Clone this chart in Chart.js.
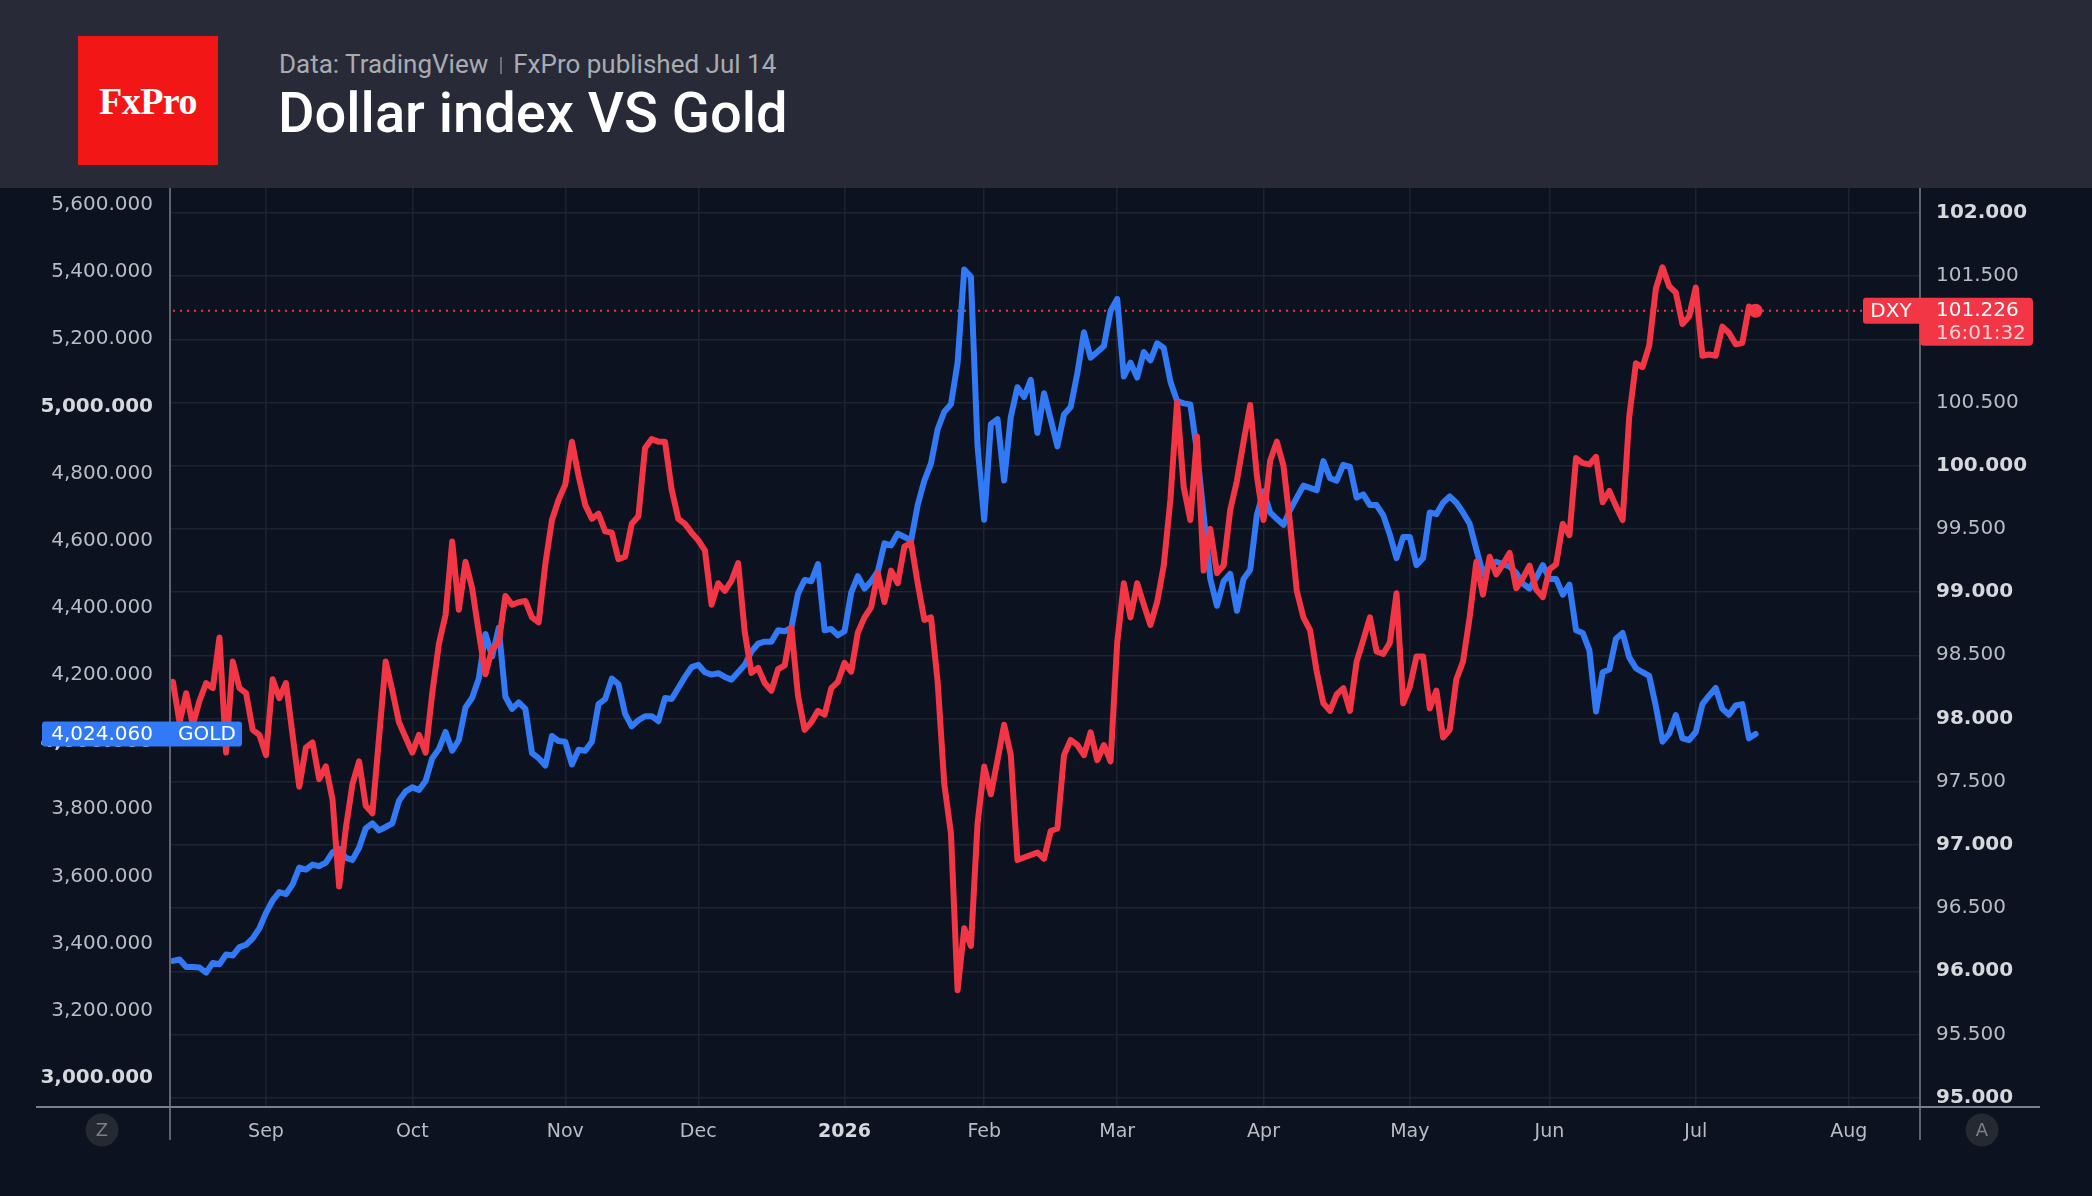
<!DOCTYPE html>
<html>
<head>
<meta charset="utf-8">
<script src="https://cdn.jsdelivr.net/npm/chart.js@4.4.1/dist/chart.umd.min.js"></script>
<style>
html, body { margin: 0; padding: 0; background: #0c121f; width: 2092px; height: 1196px; overflow: hidden; }
#head { position: absolute; left: 0; top: 0; width: 2092px; height: 188px; background: #282b37; }
#logo { position: absolute; left: 78px; top: 36px; width: 140px; height: 129px; background: #f21616; color: #fff;
  font: bold 38px "Liberation Serif", serif; display: flex; align-items: center; justify-content: center; letter-spacing: -0.5px; }
#sub { position: absolute; left: 279px; top: 51px; font: 26px Roboto; line-height: 26px; color: #a9abb2; white-space: nowrap; }
#sub .sep { display: inline-block; width: 2px; height: 17px; background: #6c6f78; margin: 0 11px 0 12px; vertical-align: -1px; }
#title { position: absolute; left: 278px; top: 85px; font: 500 56px Roboto; line-height: 56px; color: #fff; white-space: nowrap; }
#chart { position: absolute; left: 0; top: 188px; }
</style>
</head>
<body>
<div id="head">
  <div id="logo">FxPro</div>
  <div id="sub">Data: TradingView<span class="sep"></span>FxPro published Jul 14</div>
  <div id="title">Dollar index VS Gold</div>
</div>
<canvas id="chart" width="2092" height="1008"></canvas>
<script>
// trading days: weekdays from 12 Aug 2025, without these closed days
const firstDay = '2025-08-12'
const lastAxisDay = '2026-08-31'
const holidays = ['2025-12-25', '2026-01-01']
const monthNames = ['2026', 'Feb', 'Mar', 'Apr', 'May', 'Jun', 'Jul', 'Aug', 'Sep', 'Oct', 'Nov', 'Dec']

// US Dollar index, daily close (right scale)
const dxy = [
  98.29, 97.97, 98.20, 97.95, 98.14, 98.28, 98.24, 98.64, 97.73, 98.45,
  98.24, 98.20, 97.91, 97.87, 97.71, 98.31, 98.16, 98.28, 97.87, 97.46,
  97.77, 97.81, 97.52, 97.62, 97.36, 96.67, 97.13, 97.48, 97.66, 97.31,
  97.25, 97.85, 98.45, 98.22, 97.97, 97.85, 97.73, 97.87, 97.73, 98.20,
  98.59, 98.82, 99.40, 98.86, 99.24, 99.03, 98.68, 98.35, 98.55, 98.60,
  98.97, 98.90, 98.92, 98.93, 98.80, 98.76, 99.22, 99.57, 99.73, 99.85,
  100.19, 99.92, 99.69, 99.58, 99.62, 99.48, 99.47, 99.26, 99.28, 99.54,
  99.60, 100.14, 100.21, 100.19, 100.19, 99.81, 99.58, 99.54, 99.47, 99.41,
  99.33, 98.90, 99.07, 99.01, 99.09, 99.23, 98.68, 98.36, 98.40, 98.28,
  98.22, 98.39, 98.42, 98.72, 98.18, 97.91, 97.97, 98.06, 98.03, 98.24,
  98.29, 98.44, 98.37, 98.68, 98.80, 98.88, 99.15, 98.92, 99.17, 99.07,
  99.36, 99.39, 99.07, 98.78, 98.80, 98.29, 97.48, 97.09, 95.85, 96.34,
  96.20, 97.17, 97.62, 97.40, 97.67, 97.95, 97.71, 96.88, 96.90, 96.92,
  96.94, 96.89, 97.11, 97.13, 97.71, 97.83, 97.79, 97.71, 97.89, 97.67,
  97.79, 97.66, 98.60, 99.07, 98.80, 99.07, 98.90, 98.74, 98.92, 99.21,
  99.73, 100.50, 99.83, 99.57, 100.23, 99.17, 99.50, 99.15, 99.21, 99.65,
  99.88, 100.19, 100.48, 99.92, 99.57, 100.04, 100.19, 100.00, 99.54, 99.01,
  98.80, 98.70, 98.37, 98.12, 98.06, 98.19, 98.24, 98.06, 98.45, 98.62,
  98.80, 98.53, 98.51, 98.60, 98.99, 98.12, 98.25, 98.49, 98.49, 98.08,
  98.22, 97.85, 97.91, 98.31, 98.45, 98.80, 99.24, 98.98, 99.28, 99.14,
  99.22, 99.31, 99.03, 99.11, 99.21, 99.02, 98.96, 99.18, 99.22, 99.54,
  99.45, 100.06, 100.02, 100.01, 100.07, 99.71, 99.80, 99.68, 99.57, 100.39,
  100.81, 100.78, 100.95, 101.40, 101.57, 101.42, 101.37, 101.12, 101.18, 101.41,
  100.87, 100.88, 100.87, 101.10, 101.05, 100.96, 100.97, 101.26, 101.226
]

// Gold spot, daily close (left scale)
const gold = [
  3348, 3352, 3330, 3330, 3328, 3313, 3342, 3338, 3367, 3364,
  3389, 3396, 3415, 3445, 3491, 3528, 3553, 3547, 3576, 3626,
  3620, 3635, 3630, 3641, 3671, 3682, 3655, 3649, 3685, 3743,
  3758, 3737, 3747, 3758, 3825, 3853, 3865, 3857, 3884, 3952,
  3979, 4030, 3974, 4006, 4103, 4132, 4189, 4322, 4255, 4340,
  4135, 4099, 4118, 4099, 3967, 3952, 3930, 4018, 4003, 4001,
  3933, 3977, 3974, 4001, 4113, 4128, 4189, 4172, 4084, 4047,
  4065, 4077, 4077, 4062, 4131, 4128, 4161, 4194, 4223, 4230,
  4208, 4201, 4205, 4194, 4186, 4208, 4230, 4270, 4293, 4299,
  4299, 4333, 4330, 4340, 4442, 4483, 4479, 4530, 4333, 4337,
  4318, 4330, 4445, 4494, 4457, 4479, 4508, 4592, 4586, 4621,
  4611, 4600, 4706, 4779, 4830, 4932, 4984, 5006, 5130, 5408,
  5386, 4881, 4662, 4947, 4962, 4779, 4969, 5057, 5028, 5079,
  4921, 5039, 4962, 4881, 4976, 4998, 5098, 5221, 5145, 5162,
  5180, 5284, 5320, 5089, 5130, 5086, 5162, 5137, 5188, 5174,
  5074, 5016, 5009, 5006, 4867, 4676, 4486, 4406, 4479, 4501,
  4391, 4486, 4513, 4676, 4747, 4684, 4665, 4647, 4691, 4728,
  4764, 4757, 4750, 4837, 4786, 4779, 4826, 4820, 4728, 4738,
  4706, 4706, 4676, 4618, 4548, 4611, 4611, 4527, 4548, 4684,
  4679, 4713, 4732, 4713, 4684, 4650, 4574, 4501, 4530, 4537,
  4530, 4523, 4504, 4472, 4457, 4489, 4527, 4486, 4486, 4439,
  4469, 4333, 4325, 4274, 4091, 4208, 4216, 4308, 4325, 4252,
  4220, 4208, 4197, 4106, 4001, 4025, 4080, 4011, 4006, 4030,
  4113, 4138, 4161, 4099, 4081, 4109, 4113, 4011, 4024.06
]

const goldTicks = [3000, 3200, 3400, 3600, 3800, 4000, 4200, 4400, 4600, 4800, 5000, 5200, 5400, 5600]
const dxyTicks = [95, 95.5, 96, 96.5, 97, 97.5, 98, 98.5, 99, 99.5, 100, 100.5, 101, 101.5, 102]
const lastTime = '16:01:32'

// build the calendar of bars
const days = []
for (let d = new Date(firstDay + 'T00:00:00Z'); d <= new Date(lastAxisDay + 'T00:00:00Z'); d.setUTCDate(d.getUTCDate() + 1)) {
  const iso = d.toISOString().slice(0, 10)
  const wd = d.getUTCDay()
  if (wd === 0 || wd === 6 || holidays.includes(iso)) continue
  days.push(iso)
}
const monthTicks = []
days.forEach((iso, i) => {
  if (i > 0 && iso.slice(5, 7) !== days[i - 1].slice(5, 7)) {
    monthTicks.push({ value: i, label: monthNames[(+iso.slice(5, 7) - 1)] })
  }
})

const red = '#f23645'
const blue = '#3179f5'
const grid = '#1f232e'
const tickColor = '#b9bcc4'
const tickBold = '#d6d8de'
const fontFam = 'DejaVu Sans'

function roundRect(ctx, x, y, w, h, r) {
  ctx.beginPath()
  ctx.roundRect(x, y, w, h, r)
  ctx.fill()
}

const extras = {
  id: 'extras',
  beforeDatasetsDraw(chart) {
    const { ctx, chartArea: a, scales } = chart
    const y = scales.yDxy.getPixelForValue(dxy[dxy.length - 1])
    ctx.save()
    ctx.strokeStyle = red
    ctx.lineWidth = 2
    ctx.setLineDash([2, 5])
    ctx.beginPath()
    ctx.moveTo(a.left + 3, y)
    ctx.lineTo(1863, y)
    ctx.stroke()
    ctx.restore()
  },
  afterDraw(chart) {
    const { ctx, chartArea: a, scales } = chart
    ctx.save()
    // axis borders
    ctx.strokeStyle = '#5f636e'
    ctx.lineWidth = 2
    ctx.beginPath()
    ctx.moveTo(a.left, 0); ctx.lineTo(a.left, 952)
    ctx.moveTo(a.right, 0); ctx.lineTo(a.right, 952)
    ctx.stroke()
    ctx.strokeStyle = '#7a7e88'
    ctx.beginPath()
    ctx.moveTo(36, a.bottom); ctx.lineTo(2040, a.bottom)
    ctx.stroke()

    // DXY last value tags
    const yd = scales.yDxy.getPixelForValue(dxy[dxy.length - 1])
    ctx.fillStyle = red
    roundRect(ctx, 1863, yd - 13, 57, 26, [3, 0, 0, 3])
    roundRect(ctx, a.right, yd - 13, 113, 48, [0, 4, 4, 4])
    ctx.fillStyle = '#fff'
    ctx.font = '20px ' + fontFam
    ctx.textBaseline = 'middle'
    ctx.textAlign = 'center'
    ctx.fillText('DXY', 1891, yd + 1)
    ctx.textAlign = 'left'
    ctx.fillText(dxy[dxy.length - 1].toFixed(3), a.right + 16, yd)
    ctx.fillStyle = 'rgba(255,255,255,0.78)'
    ctx.fillText(lastTime, a.right + 16, yd + 23)

    // GOLD last value tag
    const yg = scales.yGold.getPixelForValue(gold[gold.length - 1])
    ctx.fillStyle = blue
    roundRect(ctx, 42, yg - 12.5, 200, 25, 3)
    ctx.fillStyle = '#fff'
    ctx.textAlign = 'right'
    ctx.fillText(gold[gold.length - 1].toLocaleString('en-US', { minimumFractionDigits: 3 }), 153, yg + 1)
    ctx.textAlign = 'left'
    ctx.fillText('GOLD', 178, yg + 1)

    // scale mode buttons
    ctx.font = '18px ' + fontFam
    ctx.textAlign = 'center'
    for (const [x, t] of [[102, 'Z'], [1982, 'A']]) {
      ctx.fillStyle = '#252932'
      ctx.beginPath()
      ctx.arc(x, 942, 16.5, 0, Math.PI * 2)
      ctx.fill()
      ctx.fillStyle = '#7d808a'
      ctx.fillText(t, x, 943)
    }
    ctx.restore()
  }
}

function noPad(scale) {
  scale.paddingTop = 0
  scale.paddingBottom = 0
  scale.paddingLeft = 0
  scale.paddingRight = 0
}

new Chart(document.getElementById('chart'), {
  type: 'line',
  data: {
    datasets: [
      {
        label: 'DXY',
        data: dxy.map((v, i) => ({ x: i, y: v })),
        yAxisID: 'yDxy',
        borderColor: red,
        backgroundColor: red,
        borderWidth: 6,
        pointRadius: (c) => (c.dataIndex === dxy.length - 1 ? 7 : 0),
        pointBorderWidth: 0,
        borderJoinStyle: 'round',
        borderCapStyle: 'round',
        tension: 0,
      },
      {
        label: 'GOLD',
        data: gold.map((v, i) => ({ x: i, y: v })),
        yAxisID: 'yGold',
        borderColor: blue,
        backgroundColor: blue,
        borderWidth: 6,
        pointRadius: 0,
        borderJoinStyle: 'round',
        borderCapStyle: 'round',
        tension: 0,
      },
    ],
  },
  options: {
    responsive: false,
    animation: false,
    events: [],
    layout: { padding: 0, autoPadding: false },
    plugins: { legend: { display: false }, tooltip: { enabled: false } },
    scales: {
      x: {
        type: 'linear',
        min: -0.436,
        max: 262.72,
        afterBuildTicks: (s) => { s.ticks = monthTicks.map((t) => ({ value: t.value })) },
        afterFit: (s) => { s.height = 89; noPad(s) },
        grid: { color: grid, lineWidth: 1.5, drawTicks: false },
        border: { display: false },
        ticks: {
          autoSkip: false,
          maxRotation: 0,
          padding: 14,
          color: (c) => (c.tick && c.tick.label === '2026' ? tickBold : tickColor),
          font: (c) => ({ family: fontFam, size: 19, weight: c.tick && c.tick.label === '2026' ? 'bold' : 'normal' }),
          callback: (v) => (monthTicks.find((t) => t.value === v) || {}).label,
        },
      },
      yGold: {
        type: 'linear',
        position: 'left',
        min: 2912.7,
        max: 5650.6,
        afterBuildTicks: (s) => { s.ticks = goldTicks.map((v) => ({ value: v })) },
        afterFit: (s) => { s.width = 170; noPad(s) },
        grid: { display: false, drawTicks: false },
        border: { display: false },
        ticks: {
          padding: 17,
          color: (c) => (c.tick && c.tick.value % 1000 === 0 ? tickBold : tickColor),
          font: (c) => ({ family: fontFam, size: 20, weight: c.tick && c.tick.value % 1000 === 0 ? 'bold' : 'normal' }),
          callback: (v) => v.toLocaleString('en-US', { minimumFractionDigits: 3 }),
        },
      },
      yDxy: {
        type: 'linear',
        position: 'right',
        min: 94.926,
        max: 102.197,
        afterBuildTicks: (s) => { s.ticks = dxyTicks.map((v) => ({ value: v })) },
        afterFit: (s) => { s.width = 172; noPad(s) },
        grid: { color: grid, lineWidth: 1.5, drawTicks: false },
        border: { display: false },
        ticks: {
          padding: 16,
          color: (c) => (c.tick && c.tick.value % 1 === 0 ? tickBold : tickColor),
          font: (c) => ({ family: fontFam, size: 20, weight: c.tick && c.tick.value % 1 === 0 ? 'bold' : 'normal' }),
          callback: (v) => v.toFixed(3),
        },
      },
    },
  },
  plugins: [extras],
})
</script>
</body>
</html>
